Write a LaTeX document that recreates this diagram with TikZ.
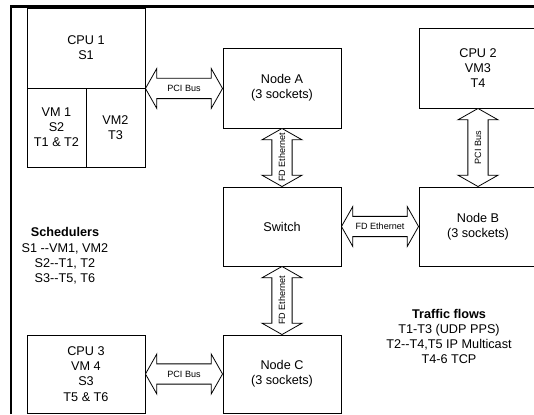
\documentclass[tikz,border=0pt]{standalone}
\usepackage{fontspec}
\setmainfont{Liberation Sans}
\usetikzlibrary{calc}
\newcommand\dd{-\kern0pt-}
\tikzset{
  box/.style={draw=black, line width=0.7pt, inner sep=0pt, align=center,
    font=\fontsize{9.5}{11.4}\selectfont},
  wide/.style={minimum width=88.5pt, minimum height=60pt},
  narrow/.style={minimum width=44.25pt, minimum height=59.25pt},
  txt/.style={align=center, inner sep=0pt, font=\fontsize{9.5}{11.4}\selectfont},
  arr/.style={draw=black, line width=0.6pt, fill=white},
  lbl/.style={inner sep=0pt, font=\fontsize{6.8}{8}\selectfont},
  frame/.style={line width=1.6pt, draw=black}
}
% horizontal double arrow: #1 left tip, #2 right tip, #3 label
\newcommand\harr[3]{%
  \draw[arr] let \p1=(#1), \p2=(#2) in
    (\x1,\y1) -- (\x1+8.5pt,\y1+15pt) -- (\x1+8.5pt,\y1+7.6pt)
    -- (\x2-8.5pt,\y1+7.6pt) -- (\x2-8.5pt,\y1+15pt) -- (\x2,\y1)
    -- (\x2-8.5pt,\y1-15pt) -- (\x2-8.5pt,\y1-7.6pt)
    -- (\x1+8.5pt,\y1-7.6pt) -- (\x1+8.5pt,\y1-15pt) -- cycle
    ({(\x1+\x2)/2},\y1) node[lbl]{#3};}
% vertical double arrow: #1 top tip, #2 bottom tip, #3 label
\newcommand\varr[3]{%
  \draw[arr] let \p1=(#1), \p2=(#2) in
    (\x1,\y1) -- (\x1+15pt,\y1-8.5pt) -- (\x1+7.6pt,\y1-8.5pt)
    -- (\x1+7.6pt,\y2+8.5pt) -- (\x1+15pt,\y2+8.5pt) -- (\x1,\y2)
    -- (\x1-15pt,\y2+8.5pt) -- (\x1-7.6pt,\y2+8.5pt)
    -- (\x1-7.6pt,\y1-8.5pt) -- (\x1-15pt,\y1-8.5pt) -- cycle
    (\x1,{(\y1+\y2)/2}) node[lbl,rotate=90]{#3};}
\begin{document}
\begin{tikzpicture}[x=0.75pt,y=-0.75pt]
\useasboundingbox (0,0) rectangle (534,414);
\clip (0,0) rectangle (534,414);
\fill[white] (0,0) rectangle (534,414);

% frame lines
\draw[frame] (11,414) -- (11,6.5) -- (534,6.5);

% boxes
\node[box,wide] (cpu1) at (86,48) {CPU 1\\S1};
\node[box,narrow] (vm1) at (56.5,127.5) {VM 1\\S2\\T1 \& T2};
\node[box,narrow] (vm2) at (115.5,127.5) {VM2\\T3};
\node[box,wide] (nA) at (282,88) {Node A\\(3 sockets)};
\node[box,wide] (cpu2) at (478,68) {CPU 2\\VM3\\T4};
\node[box,wide,minimum height=59.25pt] (sw) at (282,226.5) {Switch};
\node[box,wide,minimum height=59.25pt] (nB) at (478,226.5) {Node B\\(3 sockets)};
\node[box,wide,minimum height=58.5pt] (cpu3) at (86,374) {CPU 3\\VM 4\\S3\\T5 \& T6};
\node[box,wide,minimum height=58.5pt] (nC) at (282,374) {Node C\\(3 sockets)};

% connectors
\harr{cpu1.south east}{nA.west}{PCI Bus}
\harr{cpu3.east}{nC.west}{PCI Bus}
\harr{sw.east}{nB.west}{FD Ethernet}
\varr{nA.south}{sw.north}{FD Ethernet}
\varr{sw.south}{nC.north}{FD Ethernet}
\varr{cpu2.south}{nB.north}{PCI Bus}

% texts
\node[txt] (sched) at (65,256) {\textbf{Schedulers}\\S1 \dd VM1, VM2\\S2\dd T1, T2\\S3\dd T5, T6};
\node[txt] (traffic) at (449,336.5) {\textbf{Traffic flows}\\T1-T3 (UDP PPS)\\T2\dd T4,T5 IP Multicast\\T4-6 TCP};
\end{tikzpicture}
\end{document}
